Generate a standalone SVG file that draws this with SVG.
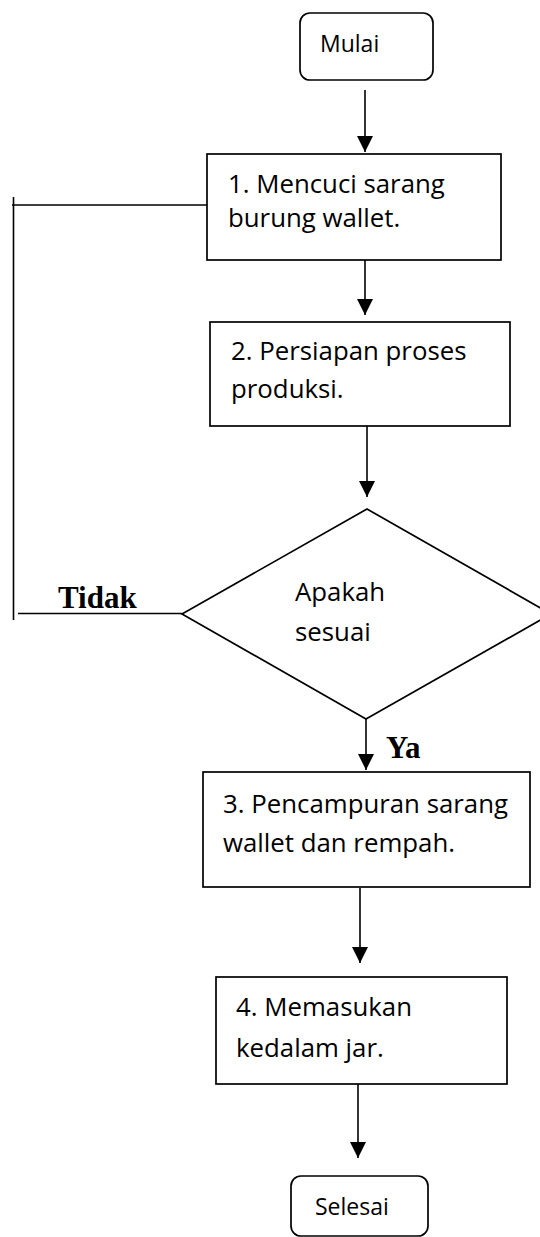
<svg xmlns="http://www.w3.org/2000/svg" width="540" height="1237" viewBox="0 0 540 1237">
<style>
.box{fill:#fff;stroke:#000;stroke-width:1.7}
.ln{fill:none;stroke:#000;stroke-width:1.6}
.t{font-family:"Open Sans","Noto Sans",sans-serif;font-size:25.8px;fill:#000}
.tt{font-family:"Open Sans","Noto Sans",sans-serif;font-size:23px;fill:#000}
.lbl{font-family:"Liberation Serif","Times New Roman",serif;font-size:31px;font-weight:bold;fill:#000}
</style>
<defs>
<marker id="ah" markerUnits="userSpaceOnUse" markerWidth="16" markerHeight="16" refX="16" refY="8" orient="auto">
<path d="M0,0 L16,8 L0,16 Z" fill="#000"/>
</marker>
</defs>
<rect width="540" height="1237" fill="#fff"/>
<g id="connectors">
<line class="ln" x1="365" y1="90" x2="365" y2="152" marker-end="url(#ah)"/>
<line class="ln" x1="365" y1="260" x2="365" y2="315" marker-end="url(#ah)"/>
<line class="ln" x1="367" y1="426" x2="367" y2="497" marker-end="url(#ah)"/>
<line class="ln" x1="366" y1="719" x2="366" y2="770" marker-end="url(#ah)"/>
<line class="ln" x1="360" y1="888" x2="360" y2="963" marker-end="url(#ah)"/>
<line class="ln" x1="358" y1="1084" x2="358" y2="1158" marker-end="url(#ah)"/>
<line class="ln" x1="12" y1="205" x2="207" y2="205"/>
<line class="ln" x1="13.5" y1="197" x2="13.5" y2="620"/>
<line class="ln" x1="18" y1="613.5" x2="182" y2="613.5"/>
<text class="lbl" x="58" y="608">Tidak</text>
<text class="lbl" x="386" y="758">Ya</text>
</g>
<g id="mulai">
<rect class="box" x="300" y="13" width="133" height="67" rx="10"/>
<text class="tt" x="320" y="52">Mulai</text>
</g>
<g id="step1">
<rect class="box" x="207" y="154" width="294" height="106"/>
<text class="t" x="228" y="193">1. Mencuci sarang</text>
<text class="t" x="228" y="227">burung wallet.</text>
</g>
<g id="step2">
<rect class="box" x="210" y="322" width="300" height="104"/>
<text class="t" x="231" y="360">2. Persiapan proses</text>
<text class="t" x="231" y="398">produksi.</text>
</g>
<g id="decision">
<polygon class="box" points="367,509 551,614 366,719 182,614"/>
<text class="t" x="295" y="601">Apakah</text>
<text class="t" x="295" y="641">sesuai</text>
</g>
<g id="step3">
<rect class="box" x="203" y="772" width="327" height="115"/>
<text class="t" x="223" y="813">3. Pencampuran sarang</text>
<text class="t" x="223" y="852">wallet dan rempah.</text>
</g>
<g id="step4">
<rect class="box" x="216" y="977" width="291" height="107"/>
<text class="t" x="236" y="1016">4. Memasukan</text>
<text class="t" x="236" y="1057">kedalam jar.</text>
</g>
<g id="selesai">
<rect class="box" x="291" y="1176" width="137" height="60" rx="10"/>
<text class="tt" x="315" y="1215">Selesai</text>
</g>
</svg>
